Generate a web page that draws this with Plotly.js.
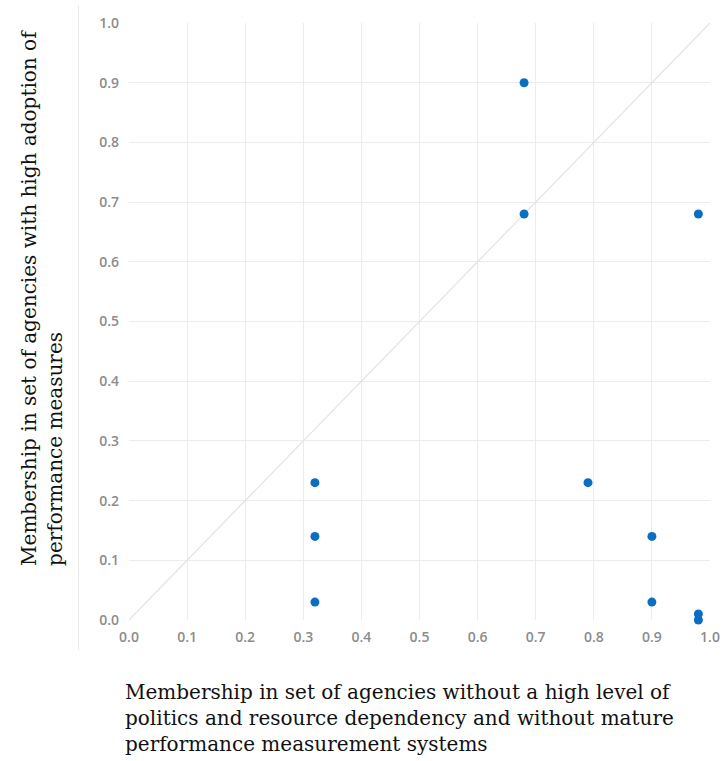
<!DOCTYPE html>
<html>
<head>
<meta charset="utf-8">
<script src="https://cdn.plot.ly/plotly-3.0.1.min.js"></script>
<style>html,body{margin:0;padding:0;background:#fff;}#chart{width:722px;height:761px;}</style>
</head>
<body>
<div id="chart"></div>
<script>
const xValues = [0.68, 0.68, 0.98, 0.32, 0.32, 0.32, 0.79, 0.90, 0.90, 0.98, 0.98];
const yValues = [0.90, 0.68, 0.68, 0.23, 0.14, 0.03, 0.23, 0.14, 0.03, 0.01, 0.00];
const tickVals = [0, 0.1, 0.2, 0.3, 0.4, 0.5, 0.6, 0.7, 0.8, 0.9, 1.0];
const tickText = ["0.0","0.1","0.2","0.3","0.4","0.5","0.6","0.7","0.8","0.9","1.0"];
const diagX = [0, 1];
const diagY = [0, 1];
const xTitle = "Membership in set of agencies without a high level of<br>politics and resource dependency and without mature<br>performance measurement systems";
const yTitle = "Membership in set of agencies with high adoption of<br>performance measures";

const traces = [
  {x: diagX, y: diagY, mode: 'lines', line: {color: '#e4e4e4', width: 1.3}, hoverinfo: 'skip', showlegend: false},
  {x: xValues, y: yValues, mode: 'markers', marker: {color: '#0a6fc2', size: 9}, cliponaxis: false, showlegend: false}
];

const axisCommon = {
  range: [0, 1], tickvals: tickVals, ticktext: tickText,
  showgrid: true, gridcolor: '#ececec', gridwidth: 1,
  zeroline: false, showline: false, ticks: '',
  tickfont: {family: 'Open Sans, sans-serif', size: 14, color: '#8c8c8c', weight: 600},
  fixedrange: true
};

const layout = {
  width: 722, height: 761,
  margin: {l: 128.5, r: 11.5, t: 23, b: 141},
  paper_bgcolor: '#fff', plot_bgcolor: '#fff',
  xaxis: Object.assign({}, axisCommon, {ticklabelstandoff: 7}),
  yaxis: Object.assign({}, axisCommon, {ticklabelstandoff: 9}),
  showlegend: false,
  shapes: [
    {type: 'line', xref: 'paper', yref: 'paper', x0: -0.0868, x1: -0.0868, y0: -0.05, y1: 1.03,
     line: {color: '#e8e8e8', width: 1}}
  ],
  annotations: [
    {text: xTitle, xref: 'paper', yref: 'paper', x: -0.011, y: -0.097, xanchor: 'left', yanchor: 'top',
     align: 'left', showarrow: false, font: {family: 'DejaVu Serif, serif', size: 20, color: '#111'}},
    {text: yTitle, xref: 'paper', yref: 'paper', x: -0.150, y: 0.087, xanchor: 'center', yanchor: 'bottom',
     align: 'left', textangle: -90, showarrow: false, font: {family: 'DejaVu Serif, serif', size: 20, color: '#111'}}
  ]
};

Plotly.newPlot('chart', traces, layout, {displayModeBar: false, staticPlot: true});
</script>
</body>
</html>
